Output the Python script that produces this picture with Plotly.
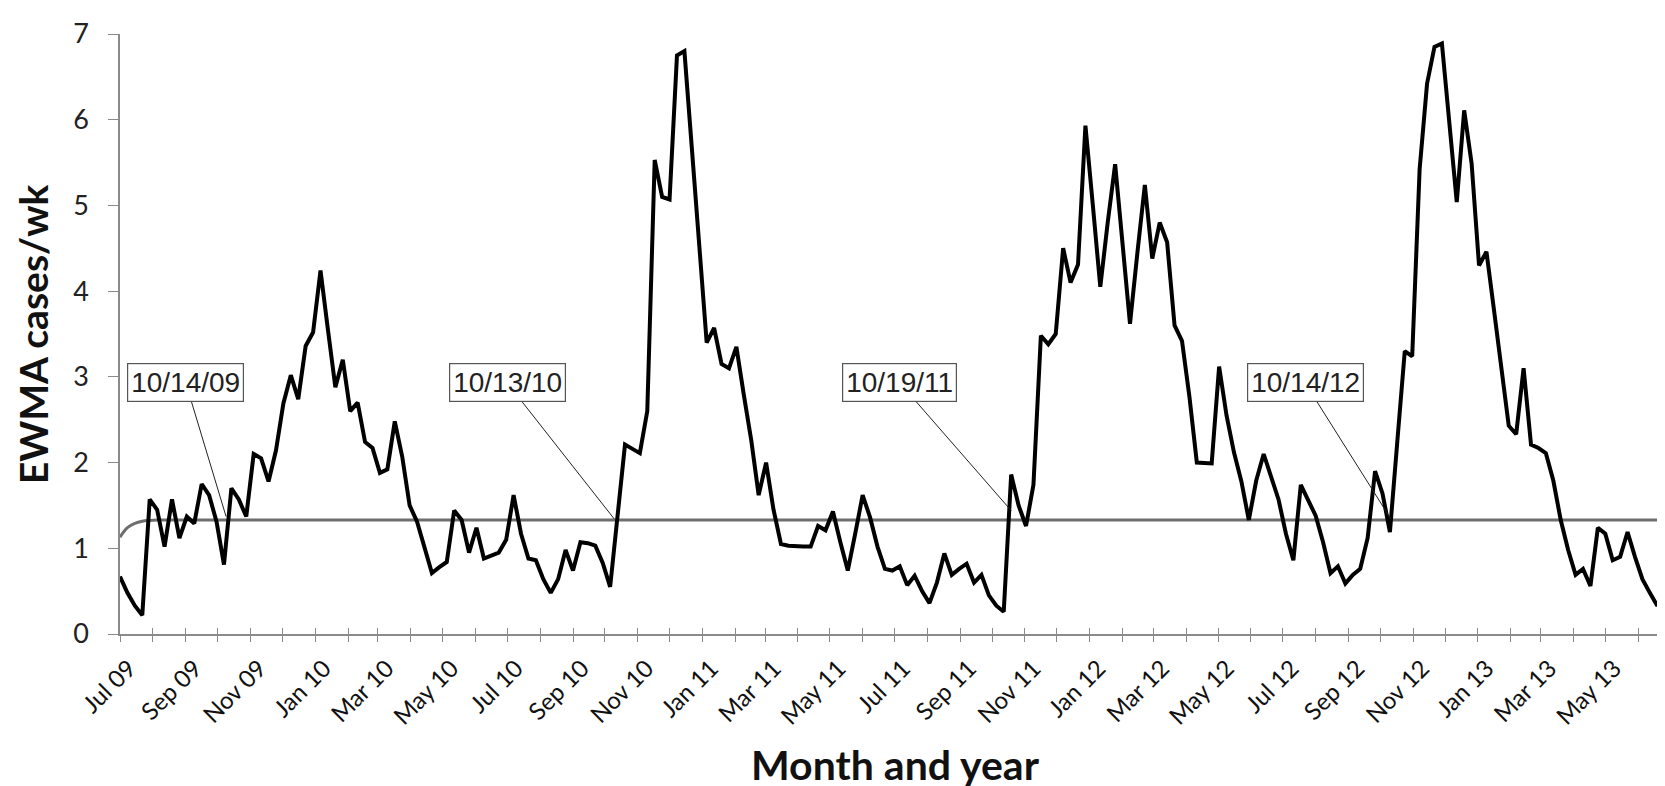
import pandas as pd
import plotly.graph_objects as go

# Weekly EWMA of cases per week, starting Wednesday 1 Jul 2009
start_date = "2009-07-01"
ewma = [
    0.67, 0.48, 0.33, 0.22, 1.57, 1.45, 1.02, 1.57, 1.12, 1.37,
    1.29, 1.75, 1.62, 1.31, 0.81, 1.70, 1.57, 1.37, 2.10, 2.05,
    1.78, 2.14, 2.69, 3.02, 2.74, 3.36, 3.52, 4.24, 3.55, 2.88,
    3.20, 2.60, 2.70, 2.24, 2.17, 1.88, 1.92, 2.48, 2.07, 1.50,
    1.31, 1.02, 0.71, 0.78, 0.84, 1.44, 1.33, 0.95, 1.24, 0.88,
    0.92, 0.95, 1.10, 1.62, 1.17, 0.88, 0.86, 0.64, 0.48, 0.64,
    0.98, 0.74, 1.07, 1.06, 1.03, 0.83, 0.55, 1.38, 2.21, 2.16,
    2.11, 2.60, 5.53, 5.10, 5.07, 6.75, 6.80, 5.67, 4.54, 3.40,
    3.57, 3.15, 3.10, 3.35, 2.79, 2.26, 1.62, 2.00, 1.45, 1.05,
    1.03, 1.02, 1.02, 1.02, 1.26, 1.21, 1.43, 1.07, 0.74, 1.17,
    1.62, 1.36, 1.02, 0.76, 0.74, 0.79, 0.57, 0.68, 0.50, 0.36,
    0.60, 0.94, 0.69, 0.76, 0.82, 0.60, 0.69, 0.45, 0.33, 0.26,
    1.86, 1.50, 1.26, 1.74, 3.48, 3.38, 3.50, 4.50, 4.10, 4.31,
    5.93, 5.00, 4.05, 4.80, 5.48, 4.55, 3.62, 4.45, 5.24, 4.38,
    4.80, 4.57, 3.60, 3.42, 2.77, 2.00, 1.99, 1.99, 3.12, 2.55,
    2.12, 1.78, 1.33, 1.79, 2.10, 1.83, 1.57, 1.17, 0.86, 1.74,
    1.57, 1.38, 1.07, 0.71, 0.79, 0.59, 0.69, 0.76, 1.12, 1.90,
    1.64, 1.19, 2.25, 3.30, 3.24, 5.42, 6.42, 6.85, 6.89, 5.92,
    5.04, 6.11, 5.49, 4.30, 4.46, 3.79, 3.10, 2.43, 2.33, 3.10,
    2.21, 2.17, 2.11, 1.79, 1.33, 0.98, 0.69, 0.76, 0.56, 1.24,
    1.17, 0.86, 0.90, 1.19, 0.90, 0.64, 0.48, 0.33, 0.50, 0.40,
]

# Alert threshold (upper control limit): start-up values, then flat level
threshold_startup = [1.13, 1.24, 1.29, 1.315, 1.325]
threshold_level = 1.33

# Alert-date labels: text, arrow tip (date, value), box centre (date, value)
alert_labels = ["10/14/09", "10/13/10", "10/19/11", "10/14/12"]
alert_tip_dates = ["2009-10-09", "2010-10-10", "2011-10-19", "2012-10-11"]
alert_tip_values = [1.37, 1.34, 1.44, 1.34]
alert_box_dates = ["2009-09-01", "2010-07-01", "2011-07-06", "2012-07-22"]
alert_box_value = 2.93

# Month tick positions and labels (every month ticked, every other labelled)
tick_months = pd.date_range("2009-07-01", "2013-06-01", freq="MS")
tick_labels = [d.strftime("%b %y") if i % 2 == 0 else "" for i, d in enumerate(tick_months)]

dates = pd.date_range(start_date, periods=len(ewma), freq="7D")
threshold = threshold_startup + [threshold_level] * (len(ewma) - len(threshold_startup))

fig = go.Figure()
fig.add_trace(go.Scatter(x=dates, y=threshold, mode="lines",
                         line=dict(color="#6e6e6e", width=3, shape="spline"),
                         showlegend=False, hoverinfo="skip"))
fig.add_trace(go.Scatter(x=dates, y=ewma, mode="lines",
                         line=dict(color="#000000", width=4),
                         showlegend=False))
# invisible trace to carry the overlay axis (inside half of cross ticks)
fig.add_trace(go.Scatter(x=[dates[0]], y=[None], xaxis="x2", mode="lines",
                         showlegend=False, hoverinfo="skip"))

font_family = "Lato, Open Sans, sans-serif"

fig.update_layout(
    width=1665, height=786,
    margin=dict(l=112, r=3, t=26, b=160),
    paper_bgcolor="white", plot_bgcolor="white",
    xaxis=dict(
        type="date", range=["2009-07-01", "2013-07-01"],
        tickmode="array", tickvals=tick_months, ticktext=tick_labels,
        tickangle=-45, tickfont=dict(family=font_family, size=24, color="#111111"),
        ticks="outside", ticklen=6, tickwidth=1.2, tickcolor="#8a8a8a",
        showline=True, linecolor="#8a8a8a", linewidth=1.5,
        showgrid=False, zeroline=False, ticklabelstandoff=3, ticklabelshift=9,
    ),
    xaxis2=dict(
        type="date", range=["2009-07-01", "2013-07-01"], overlaying="x",
        anchor="y", side="bottom",
        tickmode="array", tickvals=tick_months, showticklabels=False,
        ticks="inside", ticklen=6, tickwidth=1.2, tickcolor="#8a8a8a",
        showline=False, showgrid=False, zeroline=False,
    ),
    yaxis=dict(
        range=[0, 7], dtick=1, tick0=0,
        tickfont=dict(family=font_family, size=27, color="#222222"),
        ticks="outside", ticklen=10, tickwidth=1.2, tickcolor="#8a8a8a",
        showline=True, linecolor="#8a8a8a", linewidth=1.5,
        showgrid=False, zeroline=False, ticklabelstandoff=14,
    ),
)

fig.add_annotation(text="<b>EWMA cases/wk</b>", xref="paper", yref="paper",
                   x=-0.056, y=0.5, textangle=-90, showarrow=False,
                   xanchor="center", yanchor="middle",
                   font=dict(family=font_family, size=39, color="#111111"))
fig.add_annotation(text="<b>Month and year</b>", xref="paper", yref="paper",
                   x=0.5, y=-0.218, showarrow=False,
                   xanchor="center", yanchor="middle",
                   font=dict(family=font_family, size=41, color="#111111"))

for lab, td, tv, bd in zip(alert_labels, alert_tip_dates, alert_tip_values, alert_box_dates):
    fig.add_annotation(text=lab, x=td, y=tv, ax=bd, ay=alert_box_value,
                       xref="x", yref="y", axref="x", ayref="y",
                       showarrow=True, arrowhead=0, arrowwidth=1, arrowcolor="#222222",
                       bgcolor="white", bordercolor="#555555", borderwidth=1.2, borderpad=3,
                       font=dict(family="Liberation Sans, Arial, sans-serif", size=28, color="#222222"))

fig.write_html("out.html")
